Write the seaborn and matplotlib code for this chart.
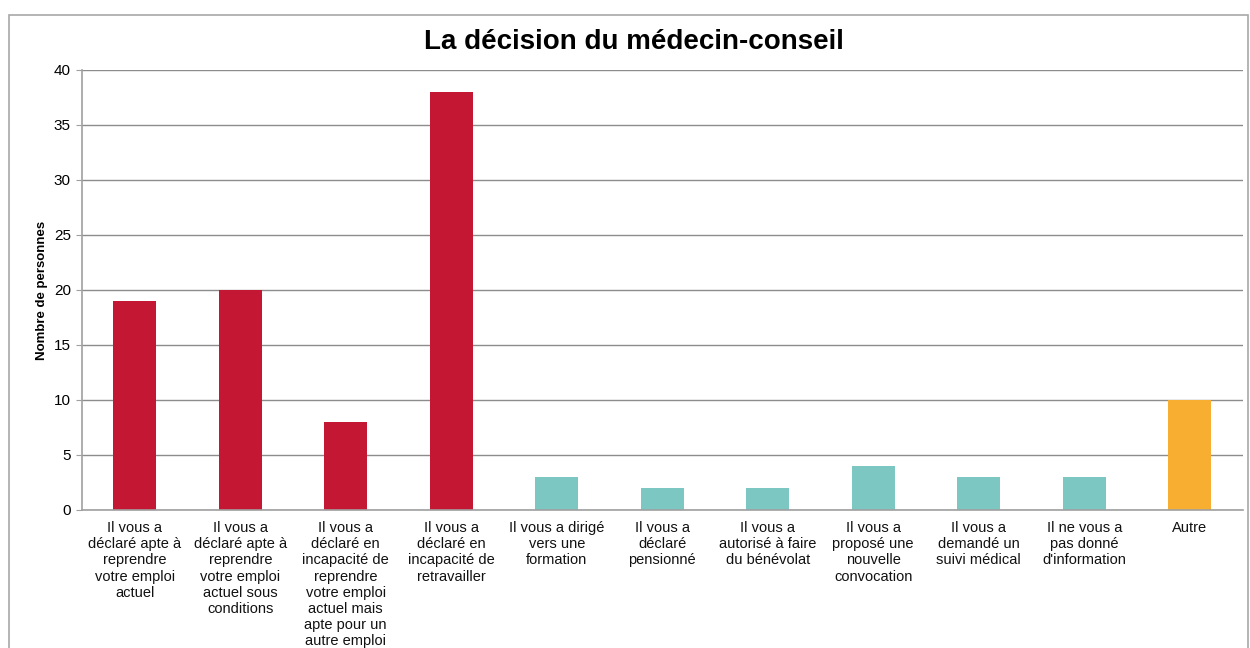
import matplotlib.pyplot as plt
import seaborn as sns
import pandas as pd
from matplotlib.patches import Rectangle

categories = [
    "Il vous a\ndéclaré apte à\nreprendre\nvotre emploi\nactuel",
    "Il vous a\ndéclaré apte à\nreprendre\nvotre emploi\nactuel sous\nconditions",
    "Il vous a\ndéclaré en\nincapacité de\nreprendre\nvotre emploi\nactuel mais\napte pour un\nautre emploi",
    "Il vous a\ndéclaré en\nincapacité de\nretravailler",
    "Il vous a dirigé\nvers une\nformation",
    "Il vous a\ndéclaré\npensionné",
    "Il vous a\nautorisé à faire\ndu bénévolat",
    "Il vous a\nproposé une\nnouvelle\nconvocation",
    "Il vous a\ndemandé un\nsuivi médical",
    "Il ne vous a\npas donné\nd'information",
    "Autre",
]
values = [19, 20, 8, 38, 3, 2, 2, 4, 3, 3, 10]
groups = ["a", "a", "a", "a", "b", "b", "b", "b", "b", "b", "c"]
colors = {"a": "#C41733", "b": "#7CC7C1", "c": "#F8AF31"}

df = pd.DataFrame({"cat": categories, "val": values, "grp": groups})

sns.set_style("white")
plt.rcParams['font.family'] = ['Liberation Sans', 'DejaVu Sans']

fig = plt.figure(figsize=(12.5, 6.48), dpi=100)
ax = fig.add_axes([0.0656, 0.213, 0.9284, 0.679])

sns.barplot(data=df, x="cat", y="val", hue="grp", palette=colors, dodge=False,
            width=0.41, legend=False, ax=ax, saturation=1, linewidth=0)

ax.set_ylim(0, 40)
ax.set_yticks(range(0, 41, 5))
ax.set_xlim(-0.5, len(categories) - 0.5)
ax.yaxis.grid(True, color="#8c8c8c", linewidth=1)
ax.set_axisbelow(True)
for s in ["top", "right"]:
    ax.spines[s].set_visible(False)
for s in ["left", "bottom"]:
    ax.spines[s].set_color("#a0a0a0")
    ax.spines[s].set_linewidth(1.2)
ax.tick_params(axis="y", length=4, color="#a0a0a0", labelsize=11, pad=4,
               left=True, labelcolor="black")
ax.tick_params(axis="x", length=0, labelsize=10.5, pad=8, labelcolor="#111111")
ax.set_xlabel("")
ax.set_ylabel("Nombre de personnes", fontsize=9.5, fontweight="bold",
              labelpad=4, color="black")
for lbl in ax.get_xticklabels():
    lbl.set_linespacing(1.2)
    lbl.set_va("top")

fig.text(0.507, 0.935, "La décision du médecin-conseil", ha="center", va="center",
         fontsize=20, fontweight="bold", color="black")

fig.patches.append(Rectangle((9 / 1250, -0.05), (1248 - 9) / 1250, 1.05 - 15 / 648,
                             transform=fig.transFigure, fill=False,
                             edgecolor="#a8a8a8", linewidth=1.2))

fig.savefig("out.png", dpi=100)
